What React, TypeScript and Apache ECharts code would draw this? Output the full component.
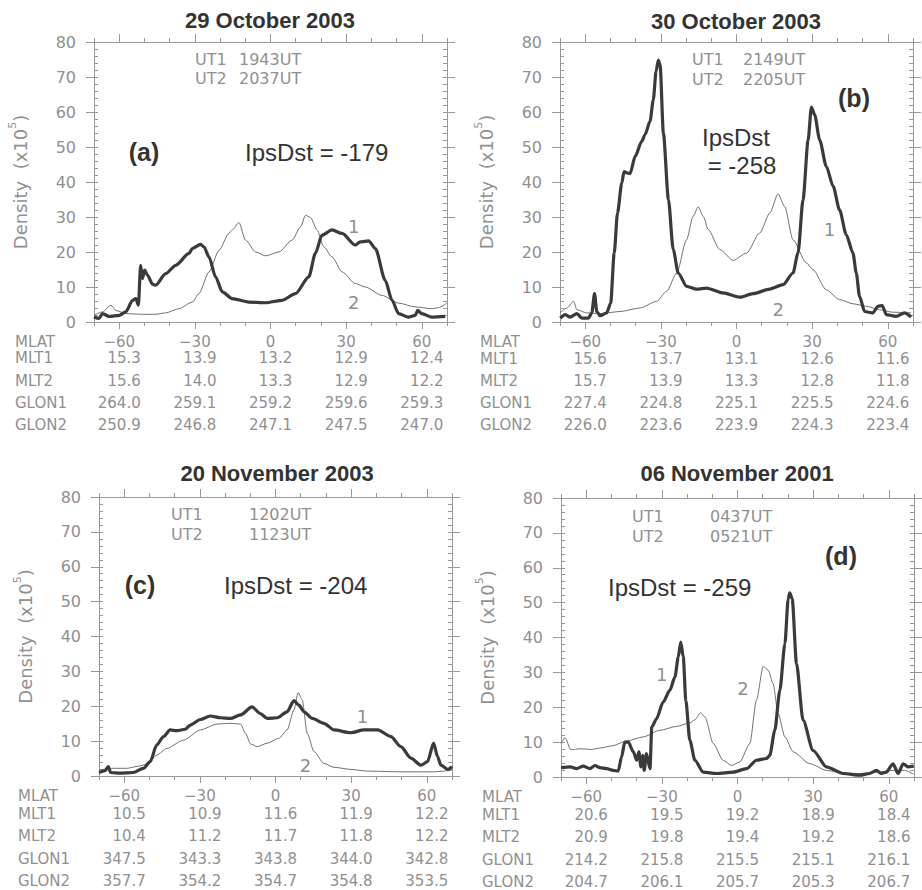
import React, { useEffect, useRef } from "react";
import * as echarts from "echarts";

// ---------------- DATA ----------------
const MLAT_TICKS = [-60, -30, 0, 30, 60];
const MLAT_LABELS = ["\u221260", "\u221230", "0", "30", "60"];
const ROW_NAMES = ["MLAT", "MLT1", "MLT2", "GLON1", "GLON2"];

const TITLES = ["29 October 2003", "30 October 2003", "20 November 2003", "06 November 2001"];
const PANEL_TAGS = ["(a)", "(b)", "(c)", "(d)"];
const UT1 = ["1943UT", "2149UT", "1202UT", "0437UT"];
const UT2 = ["2037UT", "2205UT", "1123UT", "0521UT"];
const IPSDST = [-179, -258, -204, -259];

const MLT1_A = ["15.3", "13.9", "13.2", "12.9", "12.4"];
const MLT2_A = ["15.6", "14.0", "13.3", "12.9", "12.2"];
const GLON1_A = ["264.0", "259.1", "259.2", "259.6", "259.3"];
const GLON2_A = ["250.9", "246.8", "247.1", "247.5", "247.0"];

const MLT1_B = ["15.6", "13.7", "13.1", "12.6", "11.6"];
const MLT2_B = ["15.7", "13.9", "13.3", "12.8", "11.8"];
const GLON1_B = ["227.4", "224.8", "225.1", "225.5", "224.6"];
const GLON2_B = ["226.0", "223.6", "223.9", "224.3", "223.4"];

const MLT1_C = ["10.5", "10.9", "11.6", "11.9", "12.2"];
const MLT2_C = ["10.4", "11.2", "11.7", "11.8", "12.2"];
const GLON1_C = ["347.5", "343.3", "343.8", "344.0", "342.8"];
const GLON2_C = ["357.7", "354.2", "354.7", "354.8", "353.5"];

const MLT1_D = ["20.6", "19.5", "19.2", "18.9", "18.4"];
const MLT2_D = ["20.9", "19.8", "19.4", "19.2", "18.6"];
const GLON1_D = ["214.2", "215.8", "215.5", "215.1", "216.1"];
const GLON2_D = ["204.7", "206.1", "205.7", "205.3", "206.7"];

// [MLAT, density x1e5]
const A_THICK = [[-70,1.4],[-68,1.0],[-66.6,2.4],[-64,1.6],[-60,1.9],[-57.4,2.9],[-54.7,6.2],[-53.4,6.7],[-52.4,4.8],[-51.5,16.2],[-50.8,12.4],[-49.9,14.8],[-48.8,13.4],[-46.8,10.8],[-45.5,10.5],[-41.6,13.8],[-37.6,16.2],[-32.3,19.6],[-31,21],[-27.7,22.2],[-26.4,21.5],[-24.4,18.6],[-21.8,12.9],[-19.1,8.6],[-15.2,6.7],[-8.6,5.7],[-2,5.5],[4.6,6.2],[9.9,8.1],[15.2,12.9],[17.8,19.6],[20.4,24.8],[24.4,26.3],[28.4,25.3],[33.6,22],[35.6,22.9],[38.9,23.2],[41.6,21],[45.5,11.9],[48.2,6.2],[50.8,2.4],[54.7,1.4],[57.4,1.9],[58.4,3.3],[60,2.4],[64,1.4],[69.3,1.6]];
const A_THIN = [[-70,1.9],[-66.6,2.9],[-63.3,4.8],[-61.3,3.3],[-57.4,2.4],[-50.8,2.2],[-45.5,2.2],[-41.6,2.6],[-36.3,3.8],[-31,5.7],[-28.4,8.1],[-24.4,14.3],[-20.4,20.5],[-16.5,25.3],[-15.2,26.3],[-12.5,28.4],[-9.9,23.4],[-5.9,20],[-2,18.9],[3.3,20],[8.6,23.4],[11.9,27.2],[13.9,30.5],[15.8,29.9],[18.5,26.3],[21.1,21.5],[24.4,18.6],[28.4,14.3],[33.6,11],[37.6,10],[44.2,7.6],[50.8,5.4],[57.4,4.3],[64,3.8],[66.6,4.1],[69.9,5.4]];

const B_THICK = [[-69.9,1.1],[-67.9,2.1],[-66,1.4],[-63.3,2.4],[-61.3,1.1],[-58.7,1.1],[-57.4,2.6],[-56.3,8.1],[-55.4,3],[-54.1,1.8],[-51.5,2.6],[-49.9,5.4],[-48.5,19.7],[-47.2,31.1],[-45.5,39.7],[-44.6,43],[-43.5,42.6],[-42.2,42.4],[-40.2,47.3],[-37.6,51.6],[-36.3,53.5],[-34.3,57.3],[-33,63.5],[-31.9,71.6],[-31,74.8],[-30.3,73.5],[-29,54],[-27,35],[-25.1,20.7],[-23.1,14],[-19.8,10.2],[-15.8,9.4],[-11.9,9.7],[-5.3,8.3],[1.3,7.1],[6.6,8.1],[13.2,9.4],[18.5,10.7],[22.4,14],[24.4,19.7],[26.4,35],[28.4,52],[29.7,61.4],[31,59.2],[33,52],[35.6,44.5],[38.3,38.8],[40.9,32],[43.5,25],[46.2,19.7],[47.5,14],[48.8,7.3],[50.8,3],[54.1,2.6],[56.1,4.5],[57.8,4.7],[59.4,2.1],[63.3,1.6],[66.6,2.6],[69.3,1.4]];
const B_THIN = [[-70,2.6],[-67.3,4],[-64.6,5.9],[-63.3,3.5],[-59.4,2.6],[-54.1,2.4],[-46.2,3],[-38.3,4],[-31.7,5.9],[-27.7,8.8],[-23.7,14],[-19.8,23.5],[-17.2,30.2],[-15.2,32.9],[-13.2,30.2],[-11.2,26.4],[-6.6,20.7],[-1.3,17.6],[4,19.7],[9.2,25.4],[13.2,31.1],[16.5,36.6],[19.1,33],[22.4,23.5],[27.7,16.9],[30.3,15],[35.6,9.2],[40.9,6.4],[46.2,5.2],[51.5,4.5],[56.7,3.5],[62,2.8],[69.3,2.6]];

const C_THICK = [[-70,1],[-67.6,1.5],[-66.3,2.7],[-65.4,1],[-61.7,0.8],[-56.4,1],[-52.4,2.2],[-49.7,4.1],[-47.1,8.9],[-44.4,11.3],[-41.8,13.2],[-39.1,13],[-35.8,13.4],[-33.8,14.6],[-29.8,16.2],[-25.9,17.2],[-21.9,16.7],[-17.9,16.5],[-13.9,17.5],[-9.3,19.8],[-6,17.9],[-3.3,16.5],[0.7,16.7],[4.6,18.4],[7.3,21.6],[9.3,20.3],[11.3,18.4],[14.6,16.5],[19.2,15.1],[23.2,13.2],[29.8,12.4],[35.1,13.2],[40.5,13.2],[45.8,11.3],[49.7,8.4],[53.7,5.1],[57.7,3.1],[60.3,4.1],[62.7,9.4],[64.3,5.5],[65.6,3.1],[68.3,1.9],[70,2.7]];
const C_THIN = [[-70,1.7],[-64.3,2.2],[-59,2.2],[-53.7,2.9],[-50.4,3.6],[-47.1,6],[-43.1,7.9],[-36.5,10.3],[-29.8,13.2],[-23.2,14.9],[-17.9,15.1],[-13.9,14.9],[-11.9,12.2],[-9.9,9.2],[-7.3,8.4],[-3.3,9.4],[1.3,10.8],[4.6,13.2],[7.3,18.9],[9,23.9],[10.6,21.8],[12.6,12.2],[15.3,7],[19.2,3.6],[23.2,2.5],[29.8,1.9],[36.5,1.4],[49.7,1.2],[63,1.2],[70,1.7]];

const D_THICK = [[-70,2.7],[-66.4,2.9],[-63.8,2.4],[-61.2,3.1],[-58.5,2.4],[-56.5,3.3],[-54.6,2.7],[-51.9,2.4],[-49.3,1.9],[-47.3,1.7],[-46,5.7],[-44.7,10],[-43.3,10],[-41.3,7.2],[-40,4.8],[-39.1,7.2],[-38.3,2.9],[-37.6,6.2],[-37,1.9],[-36.1,6.7],[-34.7,2.4],[-34,14.3],[-32.1,16.7],[-29.5,21.5],[-26.8,24.9],[-24.8,28.7],[-23.5,34.4],[-22.5,38.7],[-21.5,34.4],[-20.5,22],[-18.9,10.5],[-16.9,4.8],[-13.6,1.4],[-8.3,1],[-1.7,1.4],[3.6,2.4],[7.5,4.8],[11.5,5.3],[12.8,6.2],[14.8,13.4],[16.8,24.9],[18.8,38.2],[20.1,51.1],[20.7,52.8],[21.7,51.1],[23.4,32.5],[26,16.3],[30,7.6],[35.3,2.9],[41.9,1],[48.5,0.5],[52.4,1],[55.1,1.9],[57.1,1],[59,1.4],[61.7,3.8],[63.7,1],[65.7,3.8],[67.6,2.9],[69.9,3.1]];
const D_THIN = [[-70,9.6],[-68.4,11.3],[-66.1,7.8],[-62.5,8.1],[-57.9,7.9],[-54.6,8.3],[-49.9,8.9],[-44,10.3],[-37.4,11.5],[-30.8,13.4],[-24.2,14.5],[-18.9,15.5],[-16.9,16.4],[-14.7,18.4],[-12.9,17.2],[-9.6,9.6],[-5.7,4.8],[-2.4,3.3],[0.9,4.3],[4.9,9.6],[7.5,22],[10.2,31.7],[12.2,30.6],[14.1,26.8],[16.1,18.2],[18.8,11.5],[22.1,7.2],[28.7,3.8],[35.3,1.9],[41.9,1.1],[48.5,1],[55.1,1.3],[61.7,1.9],[66.3,1.9],[69.9,0.8]];

// curve-number annotations, in data coordinates [MLAT, density]
const LABEL1_POS = [[33, 27.2], [36.9, 26.4], [34.5, 17], [-30.1, 29.4]];
const LABEL2_POS = [[33, 5.7], [16.5, 3.5], [11.9, 3.1], [2.2, 25.3]];

const THICK = [A_THICK, B_THICK, C_THICK, D_THICK];
const THIN = [A_THIN, B_THIN, C_THIN, D_THIN];
const TABLES = [
  [MLAT_LABELS, MLT1_A, MLT2_A, GLON1_A, GLON2_A],
  [MLAT_LABELS, MLT1_B, MLT2_B, GLON1_B, GLON2_B],
  [MLAT_LABELS, MLT1_C, MLT2_C, GLON1_C, GLON2_C],
  [MLAT_LABELS, MLT1_D, MLT2_D, GLON1_D, GLON2_D],
];

// ---------------- LAYOUT / STYLE ----------------
const GRIDS = [
  { left: 94, top: 42, width: 353, height: 280 },
  { left: 560, top: 42, width: 353, height: 280 },
  { left: 99, top: 497, width: 353, height: 279 },
  { left: 561, top: 498, width: 353, height: 279 },
];
const ROW_OFFSETS = [
  [19.5, 36, 58.5, 81, 103],
  [19.5, 36.5, 58.5, 81, 103],
  [20, 38, 60, 82.5, 105],
  [20, 38, 60, 82.5, 105],
];
const ROW_NAME_GAP = [79, 80, 81, 79];
const TITLE_POS = [[270, 20], [736, 21], [277, 473], [737, 473]];
const UT_POS = [
  { x1: 195, x2: 239, y1: 59, y2: 78 },
  { x1: 692, x2: 743, y1: 59, y2: 79 },
  { x1: 171, x2: 249, y1: 514, y2: 534 },
  { x1: 632, x2: 710, y1: 516, y2: 536 },
];
const TAG_POS = [[144, 152], [854, 98], [140, 585], [841, 556]];

const GRAY = "#909090";
const AXIS_COLOR = "#999999";
const DARK = "#333333";
const LIGHT_FONT = '"DejaVu Sans", sans-serif';
const SANS = '"Liberation Sans", Arial, sans-serif';
const TABLE_FONT_SIZE = 15;

function buildOption() {
  const xAxes: any[] = [];
  const yAxes: any[] = [];
  const series: any[] = [];
  const grids = GRIDS.map((g) => ({ ...g, show: false, containLabel: false, outerBoundsMode: "none" }));

  GRIDS.forEach((_g, gi) => {
    const xBase = xAxes.length;
    const yBase = yAxes.length;
    const commonX = {
      type: "value",
      gridIndex: gi,
      min: -70,
      max: 70,
      splitLine: { show: false },
    };
    // bottom major
    xAxes.push({
      ...commonX,
      position: "bottom",
      axisLine: { show: true, onZero: false, lineStyle: { color: AXIS_COLOR, width: 1 } },
      axisTick: { show: true, customValues: MLAT_TICKS, length: 7, lineStyle: { color: AXIS_COLOR } },
      axisLabel: { show: false },
    });
    // bottom minor
    xAxes.push({
      ...commonX,
      position: "bottom",
      interval: 10,
      axisLine: { show: false, onZero: false },
      axisTick: { show: true, length: 4, lineStyle: { color: AXIS_COLOR } },
      axisLabel: { show: false },
    });
    // top major
    xAxes.push({
      ...commonX,
      position: "top",
      axisLine: { show: true, onZero: false, lineStyle: { color: AXIS_COLOR, width: 1 } },
      axisTick: { show: true, customValues: MLAT_TICKS, length: 8, lineStyle: { color: AXIS_COLOR } },
      axisLabel: { show: false },
    });
    // top minor
    xAxes.push({
      ...commonX,
      position: "top",
      interval: 10,
      axisLine: { show: false, onZero: false },
      axisTick: { show: true, length: 4, lineStyle: { color: AXIS_COLOR } },
      axisLabel: { show: false },
    });
    // table rows
    TABLES[gi].forEach((vals, ri) => {
      xAxes.push({
        ...commonX,
        position: "bottom",
        offset: ROW_OFFSETS[gi][ri],
        axisLine: { show: false, onZero: false },
        axisTick: { show: false },
        axisLabel: {
          show: true,
          customValues: MLAT_TICKS,
          margin: 0,
          verticalAlign: "middle",
          align: "center",
          color: GRAY,
          fontSize: TABLE_FONT_SIZE,
          fontFamily: LIGHT_FONT,
          lineHeight: TABLE_FONT_SIZE,
          padding: ri === 1 || ri === 2 ? [0, 0, 0, 10] : 0,
          formatter: (v: number) => {
            const i = MLAT_TICKS.indexOf(Math.round(v));
            return i >= 0 ? vals[i] : "";
          },
        },
        name: ROW_NAMES[ri],
        nameLocation: "start",
        nameGap: ROW_NAME_GAP[gi],
        nameTextStyle: {
          align: "left",
          verticalAlign: "middle",
          color: GRAY,
          fontSize: TABLE_FONT_SIZE,
          lineHeight: TABLE_FONT_SIZE,
          fontFamily: LIGHT_FONT,
        },
      });
    });

    const commonY = {
      type: "value",
      gridIndex: gi,
      min: 0,
      max: 80,
      splitLine: { show: false },
    };
    // left major with labels
    yAxes.push({
      ...commonY,
      position: "left",
      interval: 10,
      axisLine: { show: true, onZero: false, lineStyle: { color: AXIS_COLOR, width: 1 } },
      axisTick: { show: true, length: 8, lineStyle: { color: AXIS_COLOR } },
      axisLabel: {
        show: true,
        margin: 18,
        color: GRAY,
        fontSize: 16,
        fontFamily: LIGHT_FONT,
      },
      name: "Density  (x10{s|5})",
      nameLocation: "middle",
      nameGap: 61,
      nameRotate: 90,
      nameTextStyle: {
        color: GRAY,
        fontSize: 18,
        fontFamily: LIGHT_FONT,
        lineHeight: 26,
        rich: {
          s: { fontSize: 11, lineHeight: 11, verticalAlign: "top", color: GRAY, fontFamily: LIGHT_FONT },
        },
      },
    });
    // left minor
    yAxes.push({
      ...commonY,
      position: "left",
      interval: 2,
      axisLine: { show: false, onZero: false },
      axisTick: { show: true, inside: true, length: 4, lineStyle: { color: AXIS_COLOR } },
      axisLabel: { show: false },
    });
    // right major
    yAxes.push({
      ...commonY,
      position: "right",
      interval: 10,
      axisLine: { show: true, onZero: false, lineStyle: { color: AXIS_COLOR, width: 1 } },
      axisTick: { show: true, length: 8, lineStyle: { color: AXIS_COLOR } },
      axisLabel: { show: false },
    });
    // right minor
    yAxes.push({
      ...commonY,
      position: "right",
      interval: 2,
      axisLine: { show: false, onZero: false },
      axisTick: { show: true, inside: true, length: 4, lineStyle: { color: AXIS_COLOR } },
      axisLabel: { show: false },
    });

    series.push({
      type: "line",
      name: `thin${gi}`,
      xAxisIndex: xBase,
      yAxisIndex: yBase,
      data: THIN[gi],
      showSymbol: false,
      symbol: "none",
      smooth: 0.25,
      smoothMonotone: "x",
      lineStyle: { color: "#707070", width: 1 },
      z: 2,
      silent: true,
    });
    series.push({
      type: "line",
      name: `thick${gi}`,
      xAxisIndex: xBase,
      yAxisIndex: yBase,
      data: THICK[gi],
      showSymbol: false,
      symbol: "none",
      smooth: 0.25,
      smoothMonotone: "x",
      lineStyle: { color: "#3a3a3a", width: 3.2 },
      z: 3,
      silent: true,
    });
  });

  return {
    animation: false,
    backgroundColor: "#ffffff",
    grid: grids,
    xAxis: xAxes,
    yAxis: yAxes,
    series,
  };
}

function txt(text: string, x: number, y: number, opts: any) {
  return {
    type: "text",
    x,
    y,
    silent: true,
    z: 10,
    style: {
      text,
      fill: opts.fill || DARK,
      fontSize: opts.fontSize || 16,
      fontFamily: opts.fontFamily || SANS,
      fontWeight: opts.fontWeight || "normal",
      align: opts.align || "left",
      verticalAlign: opts.verticalAlign || "middle",
    },
  };
}

function buildGraphics(chart: any) {
  const els: any[] = [];
  GRIDS.forEach((_g, gi) => {
    const [tx, ty] = TITLE_POS[gi];
    els.push(txt(TITLES[gi], tx, ty, { fontSize: 22, fontWeight: "bold", align: "center" }));
    const u = UT_POS[gi];
    const light = { fill: GRAY, fontSize: 16, fontFamily: LIGHT_FONT };
    els.push(txt("UT1", u.x1, u.y1, light));
    els.push(txt(UT1[gi], u.x2, u.y1, light));
    els.push(txt("UT2", u.x1, u.y2, light));
    els.push(txt(UT2[gi], u.x2, u.y2, light));
    const [px, py] = TAG_POS[gi];
    els.push(txt(PANEL_TAGS[gi], px, py, { fontSize: 25, fontWeight: "bold", align: "center" }));
    const l1 = chart.convertToPixel({ gridIndex: gi }, LABEL1_POS[gi]);
    const l2 = chart.convertToPixel({ gridIndex: gi }, LABEL2_POS[gi]);
    const numStyle = { fill: GRAY, fontSize: 18, fontFamily: LIGHT_FONT, align: "center" };
    if (l1) els.push(txt("1", l1[0], l1[1], numStyle));
    if (l2) els.push(txt("2", l2[0], l2[1], numStyle));
  });
  const big = { fontSize: 24 };
  els.push(txt(`IpsDst = ${IPSDST[0]}`, 245, 152, big));
  els.push(txt("IpsDst", 736, 137, { ...big, align: "center" }));
  els.push(txt(`= ${IPSDST[1]}`, 742, 165, { ...big, align: "center" }));
  els.push(txt(`IpsDst = ${IPSDST[2]}`, 224, 585, big));
  els.push(txt(`IpsDst = ${IPSDST[3]}`, 608, 587, big));
  return els;
}

export default function App() {
  const ref = useRef<HTMLDivElement>(null);
  useEffect(() => {
    if (!ref.current) return;
    const chart = echarts.init(ref.current, null, { renderer: "svg" });
    chart.setOption(buildOption());
    chart.setOption({ graphic: buildGraphics(chart) });
    return () => chart.dispose();
  }, []);
  return (
    <div
      ref={ref}
      style={{ position: "absolute", left: 0, top: 0, width: 922, height: 890, background: "#fff" }}
    />
  );
}
